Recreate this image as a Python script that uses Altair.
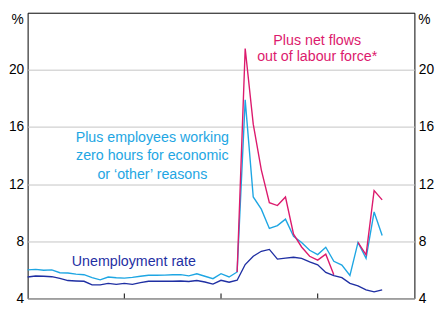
import altair as alt
import pandas as pd

# ---- data ----
# monthly, January 2018 to September 2021 (month index 0 = Jan 2018)
months = pd.date_range("2018-01-01", periods=45, freq="MS").strftime("%Y-%m").tolist()

unemployment = [5.5, 5.57, 5.55, 5.52, 5.4, 5.25, 5.22, 5.2, 4.95, 4.95,
                5.05, 4.98, 5.05, 4.98, 5.1, 5.2, 5.2, 5.2, 5.2, 5.22,
                5.18, 5.25, 5.15, 5.0, 5.27, 5.13, 5.27, 6.37, 6.95, 7.3,
                7.43, 6.75, 6.82, 6.88, 6.8, 6.55, 6.35, 5.82, 5.6, 5.45,
                5.05, 4.88, 4.6, 4.46, 4.6]

zero_hours = [6.0, 6.03, 5.97, 6.0, 5.8, 5.78, 5.7, 5.66, 5.45, 5.3,
              5.5, 5.45, 5.42, 5.47, 5.55, 5.62, 5.62, 5.63, 5.66, 5.66,
              5.58, 5.72, 5.55, 5.38, 5.73, 5.5, 5.85, 17.9, 11.1, 10.25,
              8.9, 9.1, 9.55, 8.35, 7.92, 7.37, 7.07, 7.58, 6.6, 6.33,
              5.61, 7.92, 6.8, 10.05, 8.4]

net_flows = [None] * 26 + [5.85, 21.5, 16.2, 13.0, 10.7, 10.5, 11.1, 8.5, 7.6,
                           6.95, 6.68, 7.1, 5.65, None, None, 7.92, 7.05, 11.55, 10.9]

year_ticks = [12, 24, 36]          # month index of Jan 2019, Jan 2020, Jan 2021
x_domain = [0, 48]                 # Jan 2018 .. Jan 2022
y_ticks = [4, 8, 12, 16, 20]

# ---- styling ----
DARK = "#1f2fa3"
LIGHT = "#1ea6e3"
PINK = "#dc1a6d"
FONT = "Liberation Sans"
W, H = 394, 291


def long_rows(name, vals):
    rows, seg, gap = [], 0, True
    for i, (m, v) in enumerate(zip(months, vals)):
        if v is None:
            gap = True
            continue
        if gap:
            seg += 1
            gap = False
        rows.append({"t": i, "month": m, "value": v, "series": name, "seg": f"{name}{seg}"})
    return rows


df = pd.DataFrame(long_rows("ur", unemployment) + long_rows("zero", zero_hours)
                  + long_rows("flows", net_flows))

xenc = alt.X("t:Q", scale=alt.Scale(domain=x_domain, nice=False, zero=False), axis=None)
yscale = alt.Scale(domain=[4, 24], nice=False, zero=False)

left_axis = alt.Axis(values=y_ticks, grid=True, gridColor="#c4c4c4", gridWidth=1, domain=False,
                     ticks=False, tickSize=0, labelPadding=4, labelFontSize=14, labelFont=FONT,
                     labelColor="black", title=None, orient="left")
right_axis = alt.Axis(values=y_ticks, grid=False, domain=False, ticks=False, tickSize=0,
                      labelPadding=4, labelFontSize=14, labelFont=FONT, labelColor="black",
                      title=None, orient="right")

base = alt.Chart(df)

l_zero = base.transform_filter(alt.datum.series == "zero").mark_line(
    color=LIGHT, strokeWidth=1.4).encode(
    x=xenc, y=alt.Y("value:Q", scale=yscale, axis=left_axis), detail="seg:N")

l_flow = base.transform_filter(alt.datum.series == "flows").mark_line(
    color=PINK, strokeWidth=1.4).encode(
    x=xenc, y=alt.Y("value:Q", scale=yscale, axis=None), detail="seg:N")

l_ur = base.transform_filter(alt.datum.series == "ur").mark_line(
    color=DARK, strokeWidth=1.4).encode(
    x=xenc, y=alt.Y("value:Q", scale=yscale, axis=right_axis), detail="seg:N")

ticks = alt.Chart(pd.DataFrame({"t": year_ticks})).mark_rule(color="black", strokeWidth=1).encode(
    x=xenc, y=alt.value(H - 5), y2=alt.value(H))


def label(txt, x, y, color, align="center", size=14.5):
    return alt.Chart(pd.DataFrame({"s": [txt]})).mark_text(
        align=align, baseline="middle", font=FONT, fontSize=size, color=color).encode(
        text="s:N", x=alt.value(x), y=alt.value(y))


texts = [
    label("Plus net flows", 295, 28.5, PINK),
    label("out of labour force*", 295, 45.5, PINK),
    label("Plus employees working", 127, 128, LIGHT),
    label("zero hours for economic", 127, 146.5, LIGHT),
    label("or \u2018other\u2019 reasons", 127, 165, LIGHT),
    label("Unemployment rate", 45, 253.5, DARK, align="left"),
    label("%", -4, 7.5, "black", align="right", size=14),
    label("%", W + 4, 7.5, "black", align="left", size=14),
]

chart = alt.layer(l_zero, l_flow, l_ur, ticks, *texts).resolve_axis(y="independent").properties(
    width=W, height=H,
    autosize=alt.AutoSizeParams(type="none"),
    padding={"left": 20, "top": 2, "right": 22, "bottom": 10},
).configure_view(stroke="black", strokeWidth=1)

chart.save("out.html", embed_options={"renderer": "svg", "actions": False})
